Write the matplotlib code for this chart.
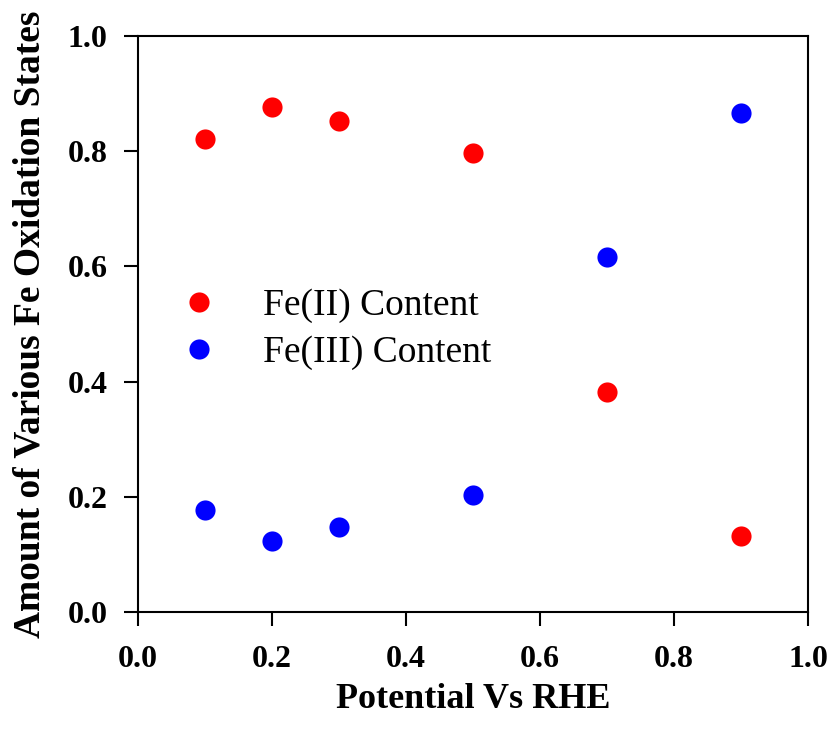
import matplotlib
matplotlib.use("Agg")
import matplotlib.pyplot as plt

potential = [0.1, 0.2, 0.3, 0.5, 0.7, 0.9]
fe2_content = [0.821, 0.877, 0.852, 0.797, 0.382, 0.132]
fe3_content = [0.177, 0.123, 0.148, 0.203, 0.616, 0.866]

plt.rcParams['font.family'] = ['Liberation Serif', 'DejaVu Serif']

fig = plt.figure(figsize=(8.31, 7.35), dpi=100)
ax = fig.add_axes([138/831, 1 - 612/735, 670/831, 576/735])

ax.plot(potential, fe2_content, 'o', color='#ff0000', markersize=14.5,
        markeredgewidth=0, label='Fe(II) Content')
ax.plot(potential, fe3_content, 'o', color='#0000ff', markersize=14.5,
        markeredgewidth=0, label='Fe(III) Content')

ax.set_xlim(0, 1.0)
ax.set_ylim(0, 1.0)
ticks = [0.0, 0.2, 0.4, 0.6, 0.8, 1.0]
ax.set_xticks(ticks)
ax.set_yticks(ticks)
ax.set_xticklabels([f"{t:.1f}" for t in ticks], fontsize=23, fontweight='bold')
ax.set_yticklabels([f"{t:.1f}" for t in ticks], fontsize=23, fontweight='bold')
ax.tick_params(direction='out', length=10, width=1.5)
ax.tick_params(axis='x', pad=14)
ax.tick_params(axis='y', pad=12)
for s in ax.spines.values():
    s.set_linewidth(1.5)

ax.set_xlabel('Potential Vs RHE', fontsize=26, fontweight='bold', labelpad=6)
ax.set_ylabel('Amount of Various Fe Oxidation States', fontsize=27,
              fontweight='bold', labelpad=14)

leg = ax.legend(loc='upper left', bbox_to_anchor=(0.013, 0.62), frameon=False,
                fontsize=27, handletextpad=1.2, labelspacing=0.33,
                handlelength=1.0)

fig.savefig('out.png', dpi=100)
